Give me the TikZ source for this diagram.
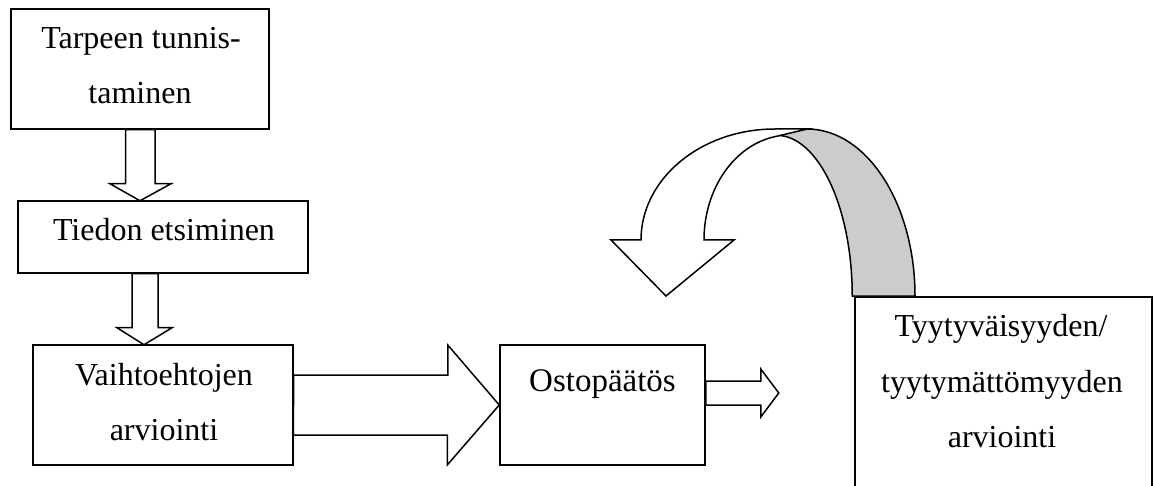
\documentclass[tikz,border=0pt]{standalone}
\usepackage{fontspec}
\setmainfont{Liberation Serif}
\usetikzlibrary{calc}
\begin{document}
\begin{tikzpicture}[x=1pt,y=-1pt,
  box/.style={draw,line width=1.5pt,rectangle,inner sep=0pt},
  blk/.style={draw,fill=white,line width=1.5pt,line join=miter},
  txt/.style={anchor=base,inner sep=0pt,font=\fontsize{32}{36}\selectfont}]
\useasboundingbox (0,0) rectangle (1154,486);
% boxes
\node[box,minimum width=258pt,minimum height=120pt] (b1) at (140,69) {};
\node[box,minimum width=290pt,minimum height=72pt] (b2) at (163,237) {};
\node[box,minimum width=260pt,minimum height=120pt] (b3) at (163,405) {};
\node[box,minimum width=205pt,minimum height=120pt] (b4) at (602.5,405) {};
\node[box,minimum width=297pt,minimum height=223pt] (b5) at (1003.5,408.5) {};
% texts
\node[txt] (t1a) at (141,49) {Tarpeen tunnis-};
\node[txt] (t1b) at (140,104) {taminen};
\node[txt] (t2) at (164,241) {Tiedon etsiminen};
\node[txt] (t3a) at (164,385) {Vaihtoehtojen};
\node[txt] (t3b) at (164,440) {arviointi};
\node[txt,font=\fontsize{33}{36}\selectfont] (t4) at (602.5,391) {Ostopäätös};
\node[txt] (t5a) at (1001,337) {Tyytyväisyyden/};
\node[txt] (t5b) at (1002,392) {tyytymättömyyden};
\node[txt] (t5c) at (1002,447) {arviointi};
% block arrows
\draw[blk] (b1.south) ++(-14.5,0) -- ++(0,54) -- ++(-15.5,0) -- ++(30,17) -- ++(31,-17) -- ++(-16,0) -- ++(0,-54) -- cycle;
\draw[blk] ($(b2.south)+(-31,0)$) -- ++(0,54) -- ++(-15,0) -- ++(27,17) -- ++(28,-17) -- ++(-14,0) -- ++(0,-54) -- cycle;
\draw[blk] ($(b3.east)+(0,-30)$) -- ++(154,0) -- ++(0,-30) -- (b4.west) -- ++(-52,60) -- ++(0,-30) -- ++(-154,0) -- cycle;
\draw[blk] ($(b4.east)+(0,-24)$) -- ++(55,0) -- ++(0,-12) -- ++(18,24) -- ++(-18,24) -- ++(0,-12) -- ++(-55,0) -- cycle;
% curved feedback arrow
\coordinate (c0) at ($(b5.north west)+(-2,0)$);
\fill[gray!40] (c0) arc[start angle=0,end angle=-90,x radius=76,y radius=161]
  -- (807,129) arc[start angle=-90,end angle=0,x radius=108,y radius=167] -- cycle;
\draw[line width=1.5pt,line join=miter] (c0) arc[start angle=0,end angle=-90,x radius=76,y radius=161]
  -- (807,129) arc[start angle=-90,end angle=0,x radius=108,y radius=167] -- cycle;
\draw[blk] (807,129) -- (775,129) arc[start angle=-90,end angle=-180,x radius=134,y radius=111]
  -- (611,240) -- (666,296) -- (734,240) -- (704,240)
  arc[start angle=-180,end angle=-98.7,x radius=86,y radius=105] -- cycle;
\end{tikzpicture}
\end{document}
